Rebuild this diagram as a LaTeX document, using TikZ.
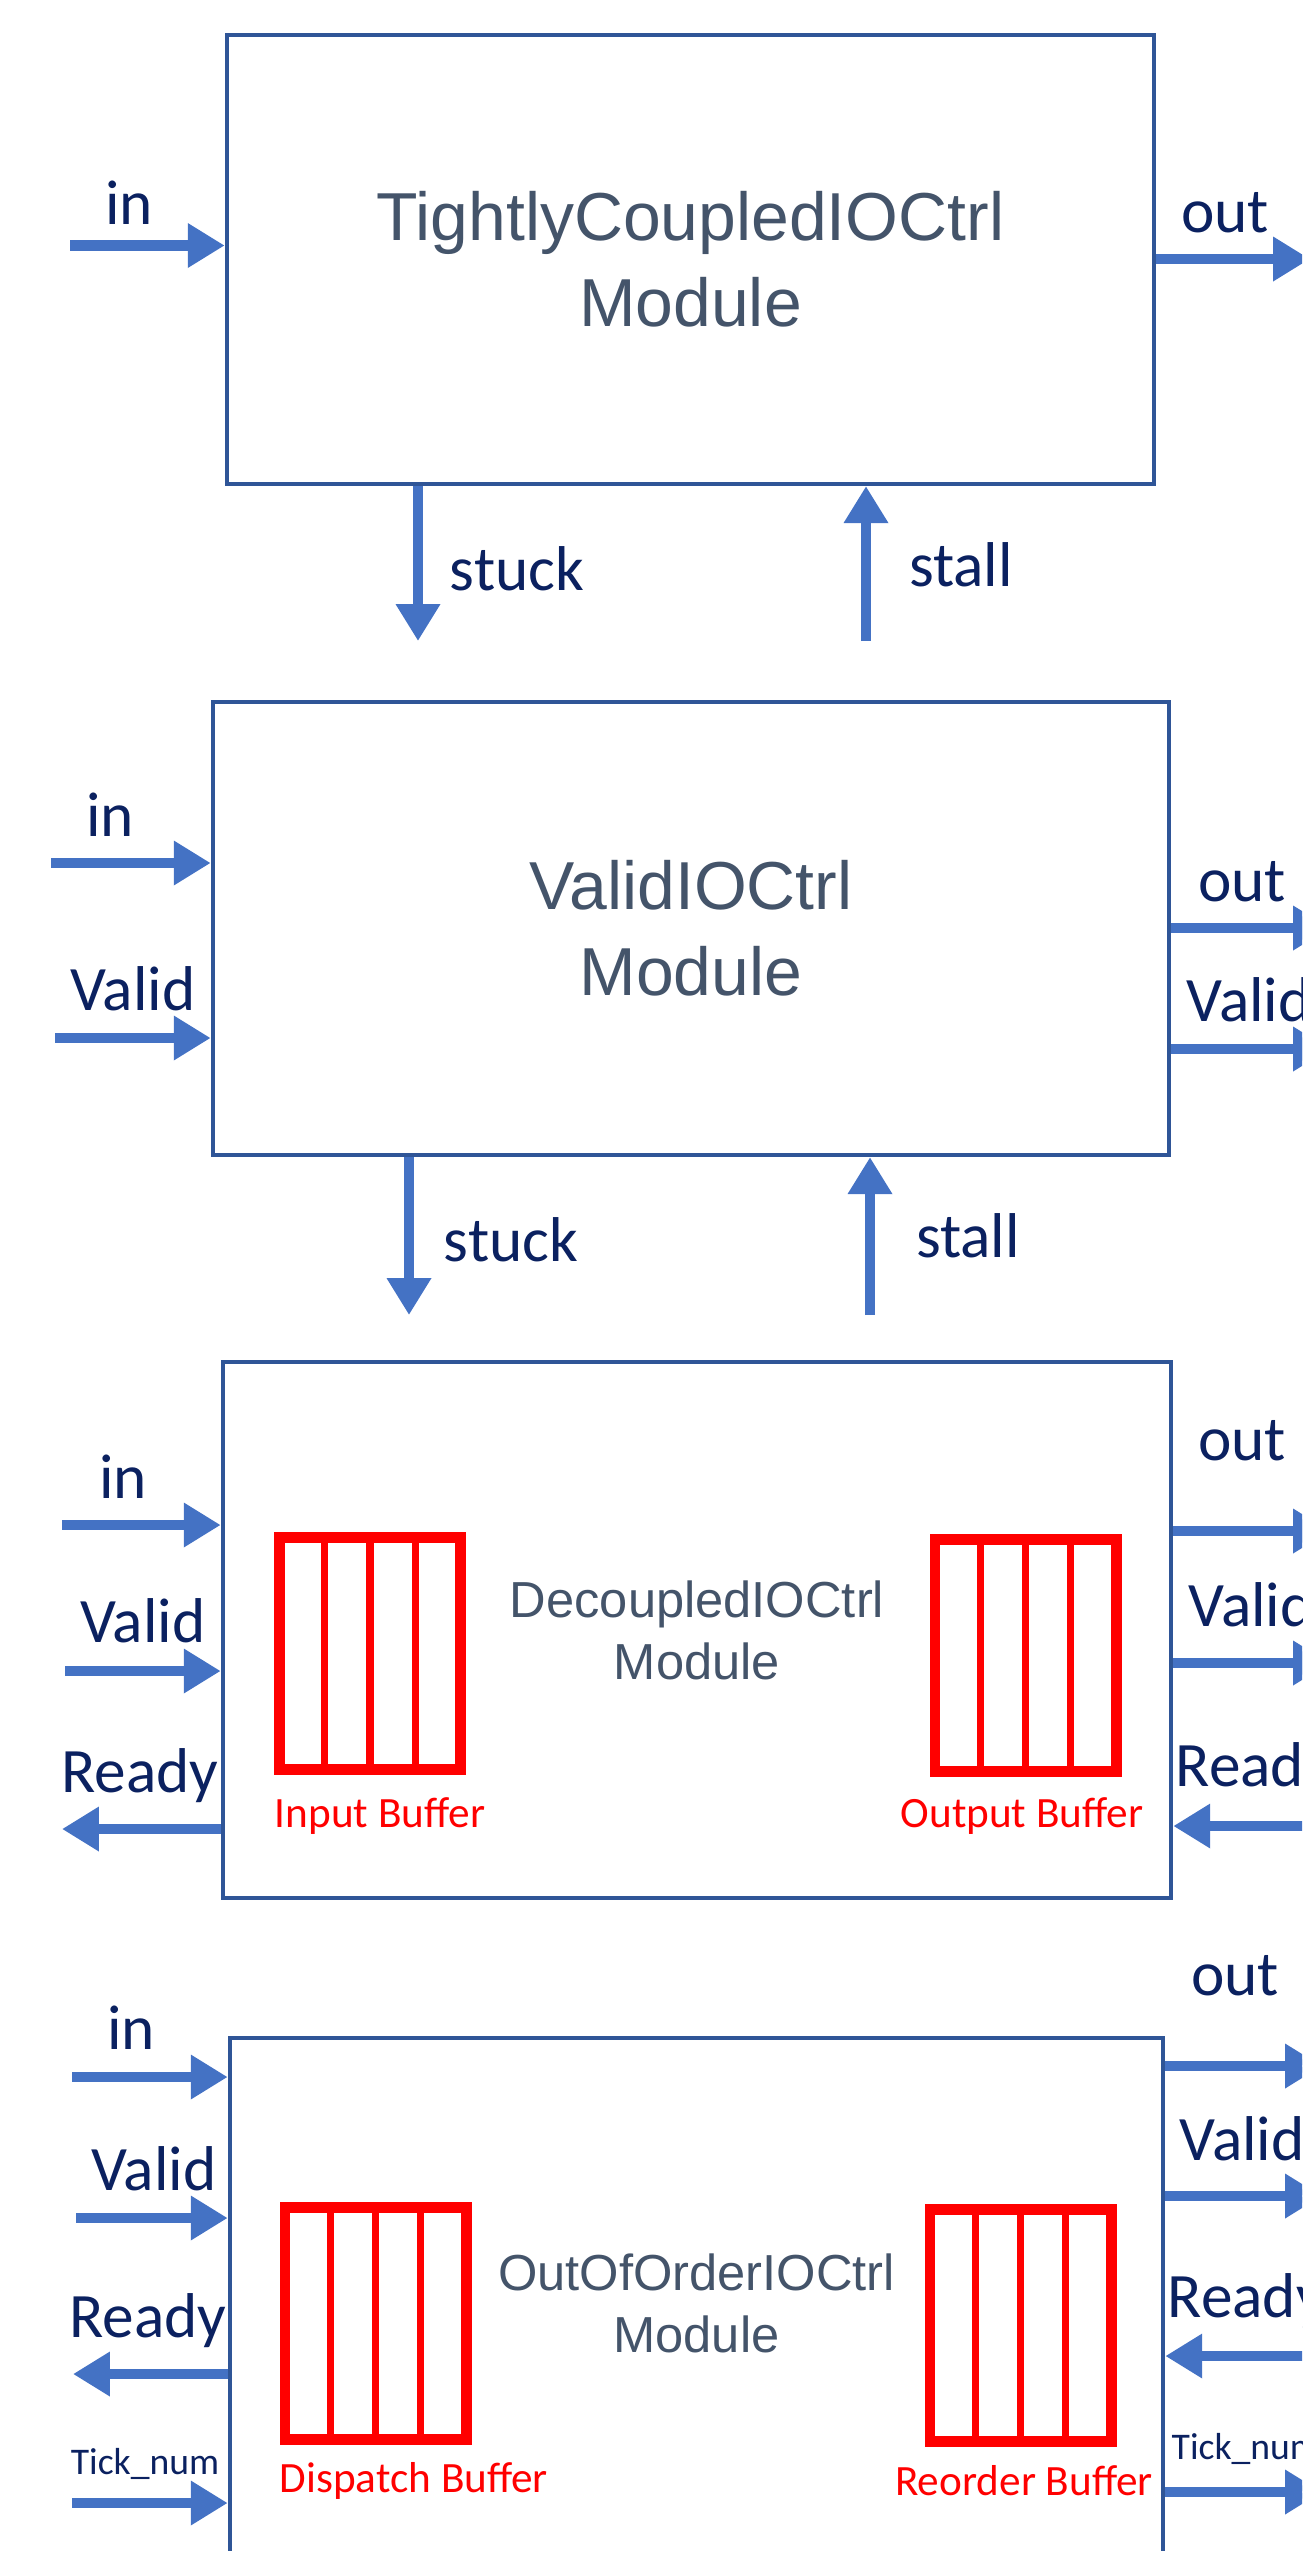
\documentclass[tikz,border=0pt]{standalone}
\usepackage{fontspec}
\setmainfont{Carlito}
\newfontfamily\titlefont{Liberation Sans}
\usetikzlibrary{arrows.meta,calc}

\definecolor{boxblue}{HTML}{2F5597}
\definecolor{arrowblue}{HTML}{4472C4}
\definecolor{titlegray}{HTML}{44546A}
\definecolor{navy}{HTML}{0B2160}

\tikzset{
  module/.style={draw=boxblue, line width=1.15pt, fill=white, align=center,
    text=titlegray, inner sep=0pt},
  bigtitle/.style={font=\titlefont\fontsize{19.3}{24.5}\selectfont},
  smalltitle/.style={font=\titlefont\fontsize{14.4}{17.6}\selectfont},
  sig/.style={draw=arrowblue, line width=3pt, -{Triangle[length=10.5pt,width=12pt]}},
  lbl/.style={text=navy, inner sep=0pt, font=\fontsize{18}{22}\selectfont},
  ticklbl/.style={text=navy, inner sep=0pt, font=\fontsize{10.7}{13}\selectfont},
  buflbl/.style={text=red, inner sep=0pt, font=\fontsize{12.3}{15}\selectfont},
  buffer/.style={draw=red, line width=3.1pt, minimum width=1.81cm,
    minimum height=2.32cm, inner sep=0pt,
    path picture={
      \foreach \k in {1,2,3}
        \draw[red, line width=2pt]
          ($(path picture bounding box.north west)!\k/4!(path picture bounding box.north east)$) --
          ($(path picture bounding box.south west)!\k/4!(path picture bounding box.south east)$);
    }},
}

\begin{document}
\begin{tikzpicture}[x=0.01cm, y=-0.01cm]
  \useasboundingbox (0,0) rectangle (1302,2551);
  \clip (0,0) rectangle (1302,2551);

  % modules
  \node[module, bigtitle, minimum width=9.27cm, minimum height=4.49cm] (box1) at (690.5,259.5)
    {TightlyCoupledIOCtrl\\Module};
  \node[module, bigtitle, minimum width=9.56cm, minimum height=4.53cm] (box2) at (691,928.5)
    {ValidIOCtrl\\Module};
  \node[module, smalltitle, minimum width=9.48cm, minimum height=5.36cm] (box3) at (697,1630)
    {DecoupledIOCtrl\\Module};
  \node[module, smalltitle, minimum width=9.33cm, minimum height=5.30cm] (box4) at (696.5,2303)
    {OutOfOrderIOCtrl\\Module};

  % buffers
  \node[buffer] (ibuf) at (370,1653.5) {};
  \node[buffer] (obuf) at (1025.5,1655.5) {};
  \node[buffer] (dbuf) at (375.5,2323.5) {};
  \node[buffer] (rbuf) at (1020.5,2325.5) {};
  \node[buflbl] (ibuflbl) at (380,1816) {Input Buffer};
  \node[buflbl] (obuflbl) at (1022,1816) {Output Buffer};
  \node[buflbl] (dbuflbl) at (414,2481) {Dispatch Buffer};
  \node[buflbl] (rbuflbl) at (1024,2481) {Reorder Buffer};

  % box 1 signals
  \coordinate (in1)    at (70,245.5);
  \coordinate (out1)   at (1310,259);
  \coordinate (stuck1) at (418,641);
  \coordinate (stall1) at (866,641);
  \draw[sig] (in1) -- (in1 -| box1.west);
  \draw[sig] (out1 -| box1.east) -- (out1);
  \draw[sig] (stuck1 |- box1.south) -- (stuck1);
  \draw[sig] (stall1) -- (stall1 |- box1.south);
  \node[lbl] (lin1)    at (129,203)  {in};
  \node[lbl] (lout1)   at (1225,213) {out};
  \node[lbl] (lstuck1) at (517,569)  {stuck};
  \node[lbl] (lstall1) at (961,565)  {stall};

  % box 2 signals
  \coordinate (in2)     at (51,863);
  \coordinate (valid2)  at (55,1038);
  \coordinate (out2)    at (1330,928);
  \coordinate (rvalid2) at (1330,1049);
  \coordinate (stuck2)  at (409,1315);
  \coordinate (stall2)  at (870,1315);
  \draw[sig] (in2) -- (in2 -| box2.west);
  \draw[sig] (valid2) -- (valid2 -| box2.west);
  \draw[sig] (out2 -| box2.east) -- (out2);
  \draw[sig] (rvalid2 -| box2.east) -- (rvalid2);
  \draw[sig] (stuck2 |- box2.south) -- (stuck2);
  \draw[sig] (stall2) -- (stall2 |- box2.south);
  \node[lbl] (lin2)    at (110,815)  {in};
  \node[lbl] (lvalid2) at (133,989)  {Valid};
  \node[lbl] (lout2)   at (1242,882) {out};
  \node[lbl, anchor=west] (lrvalid2) at (1186,1000) {Valid};
  \node[lbl] (lstuck2) at (511,1240) {stuck};
  \node[lbl] (lstall2) at (968,1236) {stall};

  % box 3 signals
  \coordinate (in3)     at (62,1525);
  \coordinate (valid3)  at (65,1671);
  \coordinate (ready3)  at (62,1829);
  \coordinate (out3)    at (1330,1531);
  \coordinate (rvalid3) at (1330,1663);
  \coordinate (rready3) at (1330,1826);
  \draw[sig] (in3) -- (in3 -| box3.west);
  \draw[sig] (valid3) -- (valid3 -| box3.west);
  \draw[sig] (ready3 -| box3.west) -- (ready3);
  \draw[sig] (out3 -| box3.east) -- (out3);
  \draw[sig] (rvalid3 -| box3.east) -- (rvalid3);
  \draw[sig] (rready3) -- (rready3 -| box3.east);
  \node[lbl] (lin3)    at (123,1477)  {in};
  \node[lbl] (lvalid3) at (143,1621)  {Valid};
  \node[lbl] (lready3) at (140,1776)  {Ready};
  \node[lbl] (lout3)   at (1242,1441) {out};
  \node[lbl, anchor=west] (lrvalid3) at (1188,1605) {Valid};
  \node[lbl, anchor=west] (lrready3) at (1175,1770) {Ready};

  % box 4 signals
  \coordinate (in4)     at (72,2077);
  \coordinate (valid4)  at (76,2218);
  \coordinate (ready4)  at (73,2374);
  \coordinate (tick4)   at (72,2503);
  \coordinate (out4)    at (1322,2066);
  \coordinate (rvalid4) at (1322,2196);
  \coordinate (rready4) at (1330,2356);
  \coordinate (rtick4)  at (1322,2492);
  \draw[sig] (in4) -- (in4 -| box4.west);
  \draw[sig] (valid4) -- (valid4 -| box4.west);
  \draw[sig] (ready4 -| box4.west) -- (ready4);
  \draw[sig] (tick4) -- (tick4 -| box4.west);
  \draw[sig] (out4 -| box4.east) -- (out4);
  \draw[sig] (rvalid4 -| box4.east) -- (rvalid4);
  \draw[sig] (rready4) -- (rready4 -| box4.east);
  \draw[sig] (rtick4 -| box4.east) -- (rtick4);
  \node[lbl] (lin4)    at (131,2028)  {in};
  \node[lbl] (lvalid4) at (154,2169)  {Valid};
  \node[lbl] (lready4) at (148,2321)  {Ready};
  \node[ticklbl] (ltick4) at (145,2464) {Tick\_num};
  \node[lbl] (lout4)   at (1235,1976) {out};
  \node[lbl, anchor=west] (lrvalid4) at (1179,2139) {Valid};
  \node[lbl, anchor=west] (lrready4) at (1167,2301) {Ready};
  \node[ticklbl, anchor=west] (lrtick4) at (1171,2449) {Tick\_num};
\end{tikzpicture}
\end{document}
